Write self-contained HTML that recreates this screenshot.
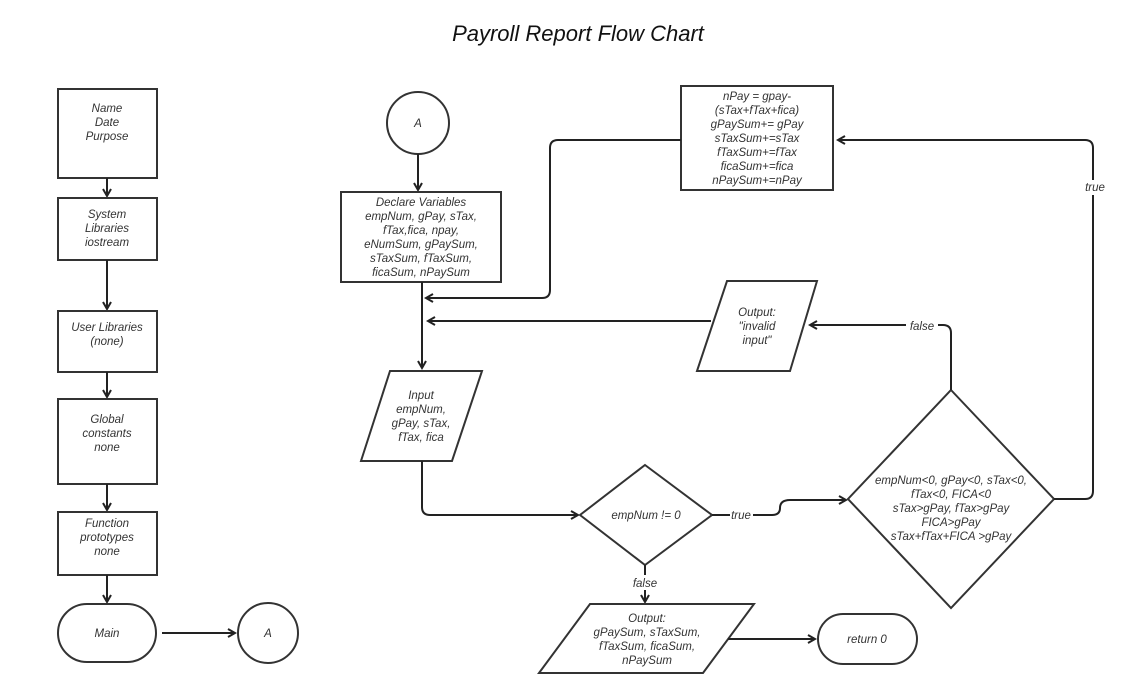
<!DOCTYPE html>
<html><head><meta charset="utf-8"><style>
html,body{margin:0;padding:0;background:#fff;}
svg{display:block;}
text{font-family:"Liberation Sans",Arial,sans-serif;font-style:italic;font-size:11.5px;fill:#333;text-anchor:middle;}
.s{fill:none;stroke:#222;stroke-width:2;}
.b{fill:#fff;stroke:#333;stroke-width:2;}
</style></head><body>
<svg width="1127" height="694" viewBox="0 0 1127 694">
<defs><marker id="a" markerWidth="10" markerHeight="10" refX="8" refY="5" orient="auto" markerUnits="userSpaceOnUse"><path d="M1,1 L8,5 L1,9" fill="none" stroke="#222" stroke-width="2"/></marker></defs>
<text x="578" y="41" style="font-size:22px;fill:#111">Payroll Report Flow Chart</text>

<!-- left column -->
<rect class="b" x="58" y="89" width="99" height="89"/>
<text x="107" y="112">Name</text><text x="107" y="126">Date</text><text x="107" y="140">Purpose</text>
<path class="s" d="M107 178 V196" marker-end="url(#a)"/>
<rect class="b" x="58" y="198" width="99" height="62"/>
<text x="107" y="218">System</text><text x="107" y="232">Libraries</text><text x="107" y="246">iostream</text>
<path class="s" d="M107 260 V309" marker-end="url(#a)"/>
<rect class="b" x="58" y="311" width="99" height="61"/>
<text x="107" y="331">User Libraries</text><text x="107" y="345">(none)</text>
<path class="s" d="M107 372 V397" marker-end="url(#a)"/>
<rect class="b" x="58" y="399" width="99" height="85"/>
<text x="107" y="423">Global</text><text x="107" y="437">constants</text><text x="107" y="451">none</text>
<path class="s" d="M107 484 V510" marker-end="url(#a)"/>
<rect class="b" x="58" y="512" width="99" height="63"/>
<text x="107" y="527">Function</text><text x="107" y="541">prototypes</text><text x="107" y="555">none</text>
<path class="s" d="M107 575 V602" marker-end="url(#a)"/>
<rect class="b" x="58" y="604" width="98" height="58" rx="29"/>
<text x="107" y="637">Main</text>
<path class="s" d="M162 633 H235" marker-end="url(#a)"/>
<circle class="b" cx="268" cy="633" r="30"/><text x="268" y="637">A</text>

<!-- main flow -->
<circle class="b" cx="418" cy="123" r="31"/><text x="418" y="127">A</text>
<path class="s" d="M418 154 V190" marker-end="url(#a)"/>
<rect class="b" x="341" y="192" width="160" height="90"/>
<text x="421" y="206">Declare Variables</text><text x="421" y="220">empNum, gPay, sTax,</text><text x="421" y="234">fTax,fica, npay,</text><text x="421" y="248">eNumSum, gPaySum,</text><text x="421" y="262">sTaxSum, fTaxSum,</text><text x="421" y="276">ficaSum, nPaySum</text>
<path class="s" d="M422 282 V368" marker-end="url(#a)"/>
<polygon class="b" points="390,371 482,371 452,461 361,461"/>
<text x="421" y="399">Input</text><text x="421" y="413">empNum,</text><text x="421" y="427">gPay, sTax,</text><text x="421" y="441">fTax, fica</text>
<path class="s" d="M422 461 V507 Q422 515 430 515 H578" marker-end="url(#a)"/>

<polygon class="b" points="645,465 712,515 645,565 580,515"/>
<text x="646" y="519">empNum  != 0</text>
<path class="s" d="M712 515 H730 M753 515 H772 Q780 515 780 508 Q780 500 790 500 H846" marker-end="url(#a)"/>
<text x="741" y="519">true</text>
<path class="s" d="M645 565 V575 M645 590 V602" marker-end="url(#a)"/>
<text x="645" y="587">false</text>

<polygon class="b" points="590,604 754,604 703,673 539,673"/>
<text x="647" y="622">Output:</text><text x="647" y="636">gPaySum, sTaxSum,</text><text x="647" y="650">fTaxSum, ficaSum,</text><text x="647" y="664">nPaySum</text>
<path class="s" d="M728 639 H815" marker-end="url(#a)"/>
<rect class="b" x="818" y="614" width="99" height="50" rx="25"/>
<text x="867" y="643">return 0</text>

<polygon class="b" points="951,390 1054,499 951,608 848,499"/>
<text x="951" y="484">empNum&lt;0, gPay&lt;0, sTax&lt;0,</text><text x="951" y="498">fTax&lt;0, FICA&lt;0</text><text x="951" y="512">sTax&gt;gPay, fTax&gt;gPay</text><text x="951" y="526">FICA&gt;gPay</text><text x="951" y="540">sTax+fTax+FICA &gt;gPay</text>

<path class="s" d="M1054 499 H1085 Q1093 499 1093 491 V195 M1093 180 V148 Q1093 140 1085 140 H838" marker-end="url(#a)"/>
<text x="1095" y="191">true</text>

<rect class="b" x="681" y="86" width="152" height="104"/>
<text x="757" y="100">nPay = gpay-</text><text x="757" y="114">(sTax+fTax+fica)</text><text x="757" y="128">gPaySum+= gPay</text><text x="757" y="142">sTaxSum+=sTax</text><text x="757" y="156">fTaxSum+=fTax</text><text x="757" y="170">ficaSum+=fica</text><text x="757" y="184">nPaySum+=nPay</text>
<path class="s" d="M681 140 H558 Q550 140 550 148 V290 Q550 298 542 298 H426" marker-end="url(#a)"/>

<path class="s" d="M951 390 V333 Q951 325 943 325 H938 M906 325 H810" marker-end="url(#a)"/>
<text x="922" y="330">false</text>
<polygon class="b" points="727,281 817,281 790,371 697,371"/>
<text x="757" y="316">Output:</text><text x="757" y="330">"invalid</text><text x="757" y="344">input"</text>
<path class="s" d="M711 321 H428" marker-end="url(#a)"/>
</svg>
</body></html>
